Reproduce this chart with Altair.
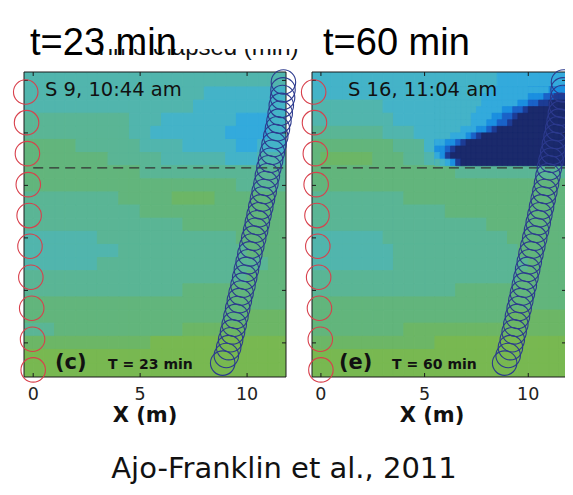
import altair as alt
import pandas as pd

# ---------------- data ----------------
X_DOMAIN = [-0.43, 11.82]          # horizontal distance (m)
Y_DOMAIN = [-0.32, 11.30]          # depth (m), drawn downward
PANEL_W = [262, 254]
PANEL_H = 305

# filled-contour levels (parula-like), 0 = strongest change (dark), b = background green
level_colors = ["#1b2a6c", "#1d3c95", "#1a62c8", "#1b8fe0", "#33aadc", "#44b3c8",
                "#51b5ad", "#5ab595", "#62b57c", "#6cb666", "#78b851", "#84bb42"]
levels = list(range(12))

# contour level per 0.5 m cell, rows from top (depth -0.75) down, columns from x = -0.5 m
field_23min = [
    "6666666666666666666666666",
    "6666666666666666666666666",
    "6666666666666666655555555",
    "6666666666666666555555555",
    "7777777777666555555544455",
    "7777777777665555555444455",
    "8888877777766665555544555",
    "8888888877777666666555666",
    "8888888888877777777777777",
    "8888888888888888888877777",
    "7777777778888899998888888",
    "7777777777788888888888888",
    "7777777777777778888888888",
    "6666666777777777777788888",
    "6666666667777777777778888",
    "6666666777777777777777788",
    "7777777777777777777778888",
    "7777777777777778888888888",
    "8888888888888888888888888",
    "8888888888888888888889999",
    "7778888888888889999999999",
    "999999999999aaaaaaaaaaaaa",
    "aaaaaaaaaaaaaaaaaaaaaaaaa",
    "aaaaaaaaaaaaaaaaaaaaaaaaa",
    "aaaaaaaaaaaaaaaaaaaaaaaaa",
]
field_60min = [
    "5555555555555555554444444",
    "5555555555555555554444444",
    "5555555555555555444443322",
    "6666666555555554443321000",
    "6666666655555544432100000",
    "7777777666555543100000000",
    "8888888877753100000000000",
    "8999998887764200000000000",
    "8888888888888877777777777",
    "8888888888888888888888888",
    "7777777778888888888888888",
    "7777777777777888888888888",
    "7777777777777777788888888",
    "6666666777777777777888888",
    "6666666677777777777788888",
    "6666666677777777777778888",
    "7777777777777777777788888",
    "7777777777777788888888888",
    "8888888888888888888888888",
    "8888888888888888888999999",
    "8888888889999999999999999",
    "999999999999aaaaaaaaaaaaa",
    "aaaaaaaaaaaaaaaaaaaaaaaaa",
    "aaaaaaaaaaaaaaaaaaaaaaaaa",
    "aaaaaaaaaaaaaaaaaaaaaaaaa",
]
# finer 0.25 m detail of the plume at 60 min: columns from x = 5.5 m, rows from depth 0.25 m
plume_60min = [
    "55555555554444444444443333",
    "55555555544444444433322111",
    "55555555544444443322110000",
    "55555555444443322100000000",
    "55555554444332210000000000",
    "55555554443322100000000000",
    "55555444332100000000000000",
    "55544432100000000000000000",
    "44332100000000000000000000",
    "33210000000000000000000000",
    "43100000000000000000000000",
    "65431000000000000000000000",
]

# source borehole (red) and receiver borehole (blue)
source_depth = [0.44, 1.61, 2.79, 3.97, 5.15, 6.32, 7.50, 8.68, 9.86, 11.03]
source_x = [-0.35, -0.31, -0.27, -0.23, -0.19, -0.15, -0.11, -0.07, -0.03, 0.0]
receiver_depth = [0.06, 0.36, 0.65, 0.95, 1.25, 1.55, 1.84, 2.14, 2.44, 2.74,
                  3.04, 3.33, 3.63, 3.93, 4.23, 4.52, 4.82, 5.12, 5.42, 5.71,
                  6.01, 6.31, 6.61, 6.91, 7.20, 7.50, 7.80, 8.10, 8.39, 8.69,
                  8.99, 9.29, 9.58, 9.88, 10.18, 10.48, 10.77]
receiver_x = [11.70, 11.68, 11.66, 11.60, 11.55, 11.49, 11.42, 11.34, 11.26, 11.18,
              11.10, 11.02, 10.95, 10.88, 10.80, 10.72, 10.64, 10.56, 10.48, 10.40,
              10.31, 10.22, 10.13, 10.05, 9.97, 9.89, 9.81, 9.72, 9.64, 9.56,
              9.48, 9.40, 9.32, 9.23, 9.14, 9.03, 8.86]
x_ticks = [0, 5, 10]
x_tick_labels = ["0", "5", "10"]
y_ticks = [0, 2, 4, 6, 8, 10]
water_table = [3.33]

titles = ["t=23 min", "t=60 min"]
stamps = ["S 9, 10:44 am", "S 16, 11:04 am"]
letters = ["(c)", "(e)"]
elapsed = ["T = 23 min", "T = 60 min"]
x_title = "X (m)"
hidden_caption = "Time elapsed (min)"
credit = "Ajo-Franklin et al., 2011"

# layout (pixels, relative to each panel's plot area)
pos = [
    dict(title_x=6, stamp_x=21, letter_x=31, t_x=84, xtitle_x=121),
    dict(title_x=11, stamp_x=36, letter_x=27, t_x=80, xtitle_x=120),
]

MATLAB_FONT = "DejaVu Sans"
SLIDE_FONT = "Liberation Sans"


def cells(rows, x_start, y_start, step):
    recs = []
    for i, row in enumerate(rows):
        for j, ch in enumerate(row):
            if ch == ".":
                continue
            x0 = x_start + step * j
            y0 = y_start + step * i
            recs.append({"x": x0, "x2": x0 + step, "y": y0, "y2": y0 + step,
                         "level": int(ch, 16)})
    return pd.DataFrame(recs)


def text_layer(txt, x, y, size, font, weight="normal", align="left", color="#111111"):
    return alt.Chart(pd.DataFrame({"t": [txt]})).mark_text(
        align=align, baseline="alphabetic", font=font, fontSize=size,
        fontWeight=weight, color=color
    ).encode(x=alt.value(x), y=alt.value(y), text="t:N")


def make_panel(k, rows, detail=None):
    w = PANEL_W[k]
    p = pos[k]
    xs = alt.Scale(domain=X_DOMAIN, nice=False, zero=False)
    ys = alt.Scale(domain=Y_DOMAIN, nice=False, zero=False, reverse=True)
    cscale = alt.Scale(domain=levels, range=level_colors)
    one = pd.DataFrame({"k": [0]})

    def field_layer(df, sw):
        return alt.Chart(df).mark_rect(clip=True, strokeWidth=sw).encode(
            x=alt.X("x:Q", scale=xs, axis=None),
            x2="x2:Q",
            y=alt.Y("y:Q", scale=ys, axis=None),
            y2="y2:Q",
            color=alt.Color("level:O", scale=cscale, legend=None),
            stroke=alt.Stroke("level:O", scale=cscale, legend=None),
        )

    field_layers = [field_layer(cells(rows, -0.5, -0.75, 0.5), 1)]
    if detail is not None:
        field_layers.append(field_layer(cells(detail, 5.5, 0.25, 0.25), 0.8))

    wt = alt.Chart(pd.DataFrame({"depth": water_table, "x0": [0.0]})).mark_rule(
        color="#333333", strokeWidth=1.2, strokeDash=[10, 6]
    ).encode(x=alt.X("x0:Q", scale=xs, axis=None), x2=alt.value(w),
             y=alt.Y("depth:Q", scale=ys, axis=None))

    frame = alt.Chart(one).mark_rect(fillOpacity=0, stroke="#1a1a1a", strokeWidth=1).encode(
        x=alt.value(0), x2=alt.value(w), y=alt.value(0), y2=alt.value(PANEL_H))

    xt = pd.DataFrame({"v": x_ticks, "lab": x_tick_labels})
    yt = pd.DataFrame({"v": y_ticks})
    tick_kw = dict(size=4, thickness=1, color="#1a1a1a", opacity=1)
    top_t = alt.Chart(xt).mark_tick(orient="vertical", **tick_kw).encode(
        x=alt.X("v:Q", scale=xs, axis=None), y=alt.value(2))
    bot_t = alt.Chart(xt).mark_tick(orient="vertical", **tick_kw).encode(
        x=alt.X("v:Q", scale=xs, axis=None), y=alt.value(PANEL_H - 2))
    left_t = alt.Chart(yt).mark_tick(orient="horizontal", **tick_kw).encode(
        y=alt.Y("v:Q", scale=ys, axis=None), x=alt.value(2))
    right_t = alt.Chart(yt).mark_tick(orient="horizontal", **tick_kw).encode(
        y=alt.Y("v:Q", scale=ys, axis=None), x=alt.value(w - 2))
    tick_labels = alt.Chart(xt).mark_text(
        align="center", baseline="alphabetic", font=MATLAB_FONT, fontSize=17.5,
        color="#222222"
    ).encode(x=alt.X("v:Q", scale=xs, axis=None), y=alt.value(PANEL_H + 23), text="lab:N")

    src = alt.Chart(pd.DataFrame({"x": source_x, "d": source_depth})).mark_point(
        shape="circle", filled=False, size=600, strokeWidth=1.1, color="#d8404c", opacity=1
    ).encode(x=alt.X("x:Q", scale=xs, axis=None), y=alt.Y("d:Q", scale=ys, axis=None))
    rcv = alt.Chart(pd.DataFrame({"x": receiver_x, "d": receiver_depth})).mark_point(
        shape="circle", filled=False, size=600, strokeWidth=1.1, color="#2c3a8e", opacity=1
    ).encode(x=alt.X("x:Q", scale=xs, axis=None), y=alt.Y("d:Q", scale=ys, axis=None))

    layers = field_layers + [
        wt, frame, top_t, bot_t, left_t, right_t, tick_labels, src, rcv,
        text_layer(stamps[k], p["stamp_x"], 24, 19.5, MATLAB_FONT),
        text_layer(letters[k], p["letter_x"], 297, 21, MATLAB_FONT, "bold"),
        text_layer(elapsed[k], p["t_x"], 297, 14, MATLAB_FONT, "bold"),
        text_layer(x_title, p["xtitle_x"], PANEL_H + 45, 21, MATLAB_FONT, "bold",
                   align="center")]
    if k == 0:
        layers.append(text_layer(hidden_caption, 70, -17, 24, SLIDE_FONT))
        layers.append(alt.Chart(one).mark_rect(color="white", opacity=1).encode(
            x=alt.value(60), x2=alt.value(285), y=alt.value(-64), y2=alt.value(-23)))
        layers.append(text_layer(credit, 260, 406, 29, MATLAB_FONT, align="center"))
    layers.append(text_layer(titles[k], p["title_x"], -17, 38, SLIDE_FONT, color="#000000"))
    return alt.layer(*layers).properties(width=w, height=PANEL_H)


p1 = make_panel(0, field_23min)
p2 = make_panel(1, field_60min, plume_60min)

chart = alt.hconcat(p1, p2, spacing=26, bounds="flush").properties(
    autosize=alt.AutoSizeParams(type="none"),
    padding={"left": 16, "top": 64, "right": 541, "bottom": 415},
    background="white",
).configure_view(strokeWidth=0)

chart.save("out.html", embed_options={"renderer": "svg", "actions": False})
